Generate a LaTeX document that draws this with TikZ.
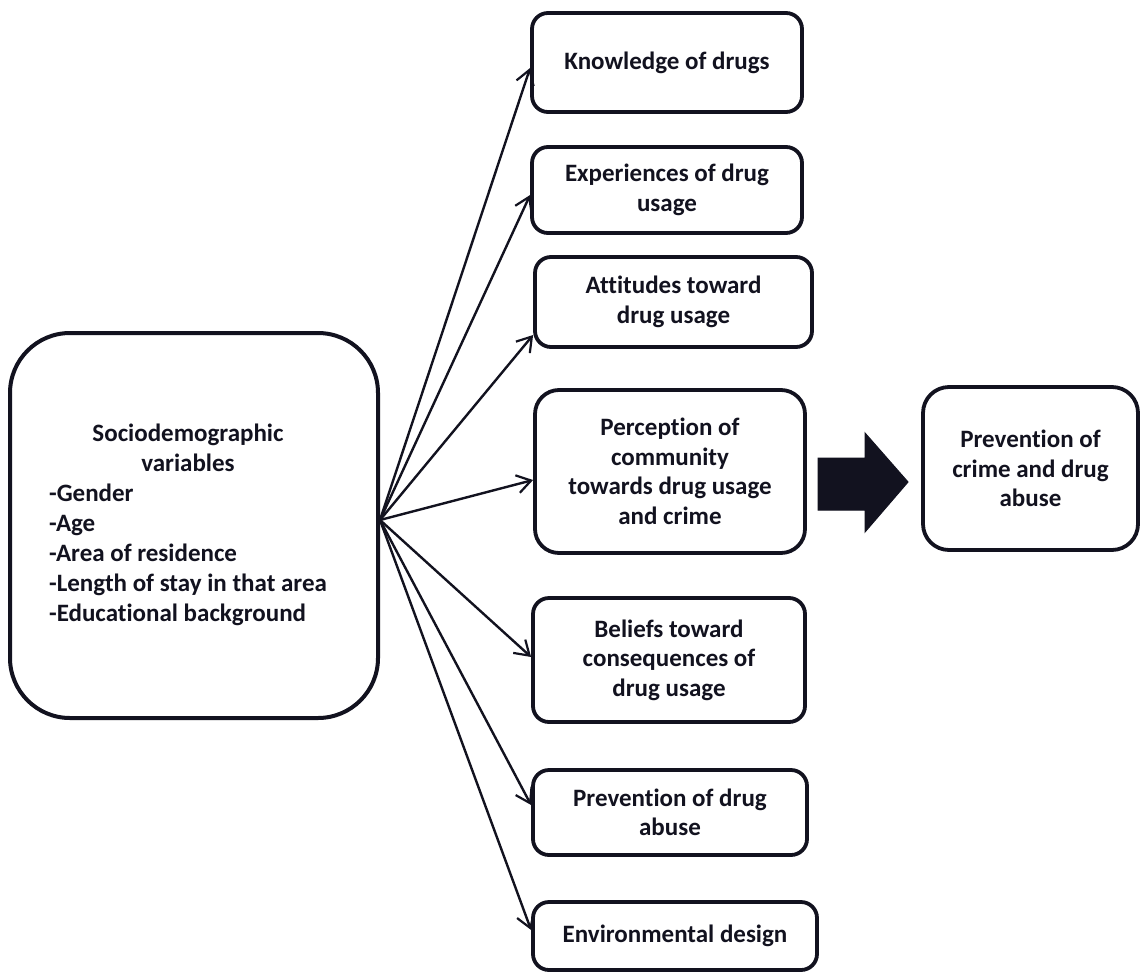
\documentclass[tikz,border=0pt]{standalone}
\usepackage{fontspec}
\setmainfont{Carlito}[Ligatures=NoCommon]
\usetikzlibrary{arrows.meta}
\definecolor{ink}{rgb}{0.07,0.07,0.12}
\begin{document}
\begin{tikzpicture}[x=1pt,y=-1pt,
  box/.style={draw=ink, line width=3.8pt, rounded corners=16pt, align=center,
    inner sep=0pt, text=ink, font=\fontsize{25}{29.5}\selectfont\bfseries},
  arr/.style={draw=ink, line width=2.4pt, -{Straight Barb[length=14pt,width=18pt,line width=2.2pt]}},
  block/.style={fill=ink, draw=ink, line width=1pt}]
\useasboundingbox (0,0) rectangle (1142,974);
\fill[white] (0,0) rectangle (1142,974);

\node[box, rounded corners=60pt, line width=4pt, minimum width=368pt, minimum height=385pt,
  font=\fontsize{25}{30}\selectfont\bfseries] (left) at (194,525.5)
  {\begin{tabular}{@{}l@{}}\multicolumn{1}{@{}c@{}}{Sociodemographic}\\ \multicolumn{1}{@{}c@{}}{variables}\\ -Gender\\ -Age\\ -Area of residence\\ -Length of stay in that area\\ -Educational background\end{tabular}\hspace*{12pt}};

\node[box, minimum width=270pt, minimum height=99pt] (know) at (667,62.5) {Knowledge of drugs};
\node[box, minimum width=270pt, minimum height=86pt] (exper) at (667,190) {Experiences of drug\\usage};
\node[box, minimum width=277pt, minimum height=90pt] (att) at (673.5,302) {Attitudes toward\\drug usage};
\node[box, rounded corners=24pt, minimum width=270pt, minimum height=163pt] (perc) at (670,471.5) {Perception of\\community\\towards drug usage\\and crime};
\node[box, minimum width=272pt, minimum height=124pt] (bel) at (669,660) {Beliefs toward\\consequences of\\drug usage};
\node[box, minimum width=274pt, minimum height=85pt] (prev) at (670,812.5) {Prevention of drug\\abuse};
\node[box, minimum width=284pt, minimum height=68pt] (env) at (675,936) {Environmental design};
\node[box, rounded corners=26pt, minimum width=215pt, minimum height=163pt] (crime) at (1030.5,468.5) {Prevention of\\crime and drug\\abuse};

\coordinate (o) at ([yshift=5.5pt]left.east);
\draw[arr] (o) -- ([yshift=-5.5pt]know.west);
\draw[arr] (o) -- ([yshift=-5pt]exper.west);
\draw[arr] (o) -- ([yshift=-33pt]att.west);
\draw[arr] (o) -- ([yshift=-8.5pt]perc.west);
\draw[arr] (o) -- ([yshift=3pt]bel.west);
\draw[arr] (o) -- ([yshift=7.5pt]prev.west);
\draw[arr] (o) -- ([yshift=6pt]env.west);

\path[block] (818,458) -- (865,458) -- (865,433) -- (908,482) -- (865,532) -- (865,510) -- (818,510) -- cycle;
\end{tikzpicture}
\end{document}
